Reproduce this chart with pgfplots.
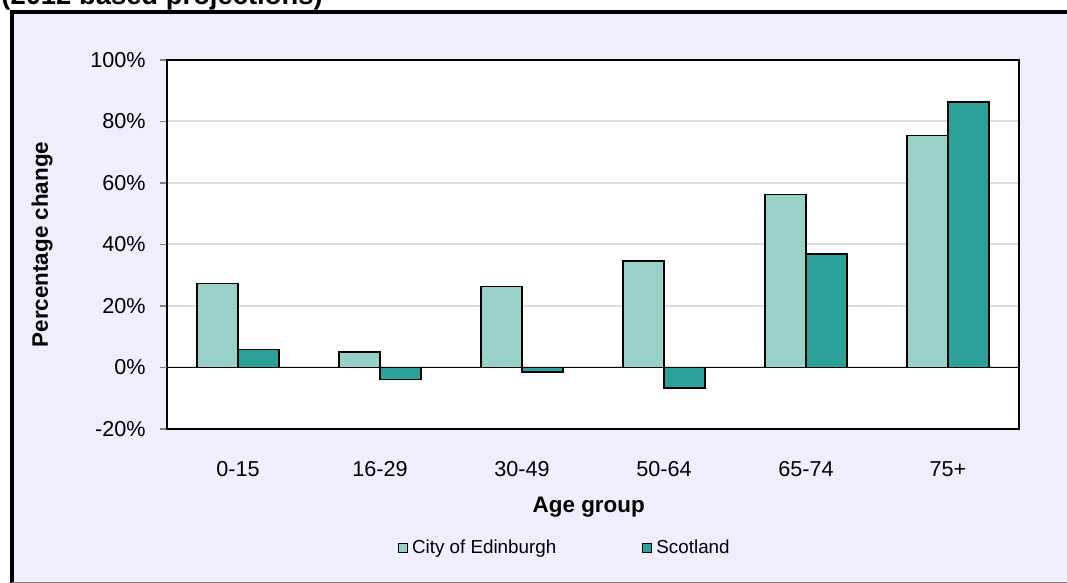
\documentclass[border=0pt]{standalone}
\usepackage{pgfplots}
\pgfplotsset{compat=1.18}
\usepackage{fontspec}
\setmainfont{Liberation Sans}
\definecolor{edin}{RGB}{153,209,201}
\definecolor{scot}{RGB}{44,161,151}
\definecolor{bgpat}{RGB}{238,238,252}
\definecolor{gridc}{RGB}{220,220,220}
\begin{document}
\begin{tikzpicture}
\useasboundingbox (0,0) rectangle (533.5pt,291.5pt);
\clip (0,0) rectangle (533.5pt,291.5pt);
\fill[bgpat] (6pt,0) rectangle (540pt,285.5pt);
\draw[line width=2pt,black] (6pt,-5pt) -- (6pt,285.5pt) -- (540pt,285.5pt);
\draw[line width=0.6pt,gray] (6pt,0.4pt) -- (540pt,0.4pt);
\node[anchor=base west,inner sep=0pt,font=\fontsize{13.7}{15}\selectfont\bfseries] at (0.5pt,289pt) {(2012 based projections)};
\begin{axis}[
  at={(83.5pt,77pt)}, anchor=south west,
  scale only axis, width=426pt, height=184.5pt,
  axis background/.style={fill=white},
  axis line style={black,line width=0.9pt},
  xmin=-0.5, xmax=5.5, ymin=-20, ymax=100,
  xtick={0,1,2,3,4,5},
  xticklabels={0-15,16-29,30-49,50-64,65-74,75+},
  xtick style={draw=none},
  ytick={-20,0,20,40,60,80,100},
  yticklabels={-20\%,0\%,20\%,40\%,60\%,80\%,100\%},
  ytick pos=left,
  ytick style={draw=gray,line width=0.6pt},
  tick align=outside, major tick length=3.5pt,
  ymajorgrids, grid style={gridc,line width=1pt},
  extra y ticks={0}, extra y tick labels={},
  extra y tick style={grid style={black,line width=0.7pt},tick style={draw=none}},
  ticklabel style={font=\fontsize{10.8}{12}\selectfont,inner sep=0pt},
  xticklabel style={anchor=center,yshift=-16.5pt},
  yticklabel style={anchor=east,xshift=-7pt},
  xlabel={Age group},
  ylabel={Percentage change},
  xlabel style={font=\fontsize{11.2}{13}\selectfont\bfseries,at={(axis description cs:0.495,-0.211)},anchor=center},
  ylabel style={font=\fontsize{11.2}{13}\selectfont\bfseries,at={(axis description cs:-0.1467,0.5)},anchor=center,rotate=0},
  ybar, bar width=20.5pt,
  legend columns=2,
  legend style={at={(axis description cs:0.468,-0.3225)},anchor=center,draw=none,fill=none,
    font=\fontsize{9.4}{11}\selectfont,
    /tikz/every even column/.append style={column sep=41pt}},
  legend image code/.code={\draw[#1,line width=0.5pt] (0pt,-2.3pt) rectangle (4.6pt,2.3pt);},
]
\addplot[fill=edin,draw=black,line width=0.8pt,bar shift=-10.25pt] coordinates {(0,27.3) (1,5.1) (2,26.3) (3,34.6) (4,56.2) (5,75.4)};
\addplot[fill=scot,draw=black,line width=0.8pt,bar shift=10.25pt] coordinates {(0,5.8) (1,-3.9) (2,-1.5) (3,-6.6) (4,36.9) (5,86.3)};
\legend{City of Edinburgh,Scotland}
\end{axis}
\end{tikzpicture}
\end{document}
